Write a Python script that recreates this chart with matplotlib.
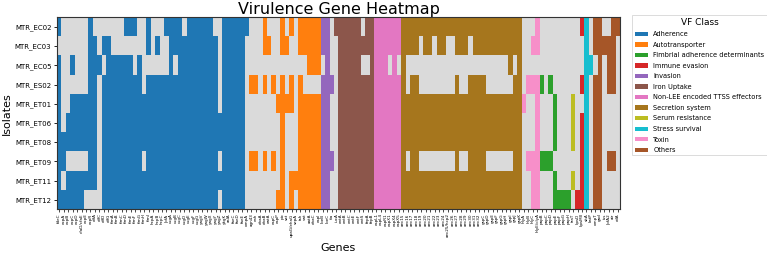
import matplotlib
matplotlib.use("Agg")
import matplotlib.pyplot as plt
import numpy as np
from matplotlib.colors import ListedColormap
from matplotlib.patches import Patch

isolates = ["MTR_EC02", "MTR_EC03", "MTR_EC05", "MTR_ES02", "MTR_ET01",
            "MTR_ET06", "MTR_ET08", "MTR_ET09", "MTR_ET11", "MTR_ET12"]

vf_classes = ["Adherence", "Autotransporter", "Fimbrial adherence determinants",
              "Immune evasion", "Invasion", "Iron Uptake",
              "Non-LEE encoded TTSS effectors", "Secretion system",
              "Serum resistance", "Stress survival", "Toxin", "Others"]
class_colors = ["#1f77b4", "#ff7f0e", "#2ca02c", "#d62728", "#9467bd", "#8c564b",
                "#e377c2", "#a6761d", "#bcbd22", "#17becf", "#f78fc9", "#a65628"]
absent_color = "#dadada"

# genes per class, in column order
adherence_genes = ["fdeC", "ecpA", "ecpB", "ecpC", "ecpD", "cfaD/cfaE", "ecpE", "ecpR",
                   "elfA", "elfC", "elfD", "elfG", "fimA", "fimB", "fimC", "fimD",
                   "fimE", "fimF", "fimG", "fimH", "fimI", "hcpA", "hcpB", "hcpC",
                   "lpfA", "csgA", "csgB", "csgC", "csgD", "csgE", "csgF", "csgG",
                   "yagV", "yagW", "yagX", "yagY", "yagZ", "ykgK", "aslA", "faeC",
                   "faeD", "faeE", "ompA"]
auto_genes = ["agn43", "cah", "ehaA", "ehaB", "eatA", "espC", "espP", "pic", "sat",
              "upaG/ehaG", "sepA", "tsh", "vat", "aatA", "ehaC", "espI"]
invasion_genes = ["ibeB", "ibeC", "tia"]
iron_genes = ["iucA", "entA", "entB", "entC", "entE", "entF", "entS", "fepA", "fepB"]
nonlee_genes = ["espL1", "espL4", "espR1", "espX1", "espX4", "espX5"]
secretion_genes = ["aec15", "aec16", "aec17", "aec18", "aec19", "aec20", "aec21", "aec22",
                   "aec23", "aec24", "aec25/hcp2", "aec26", "aec27", "aec28", "aec29",
                   "aec30", "aec31", "aec32", "gspC", "gspD", "gspE", "gspF", "gspG",
                   "gspH", "gspI", "gspJ", "gspK"]
toxin_genes = ["hlyA", "hlyB", "hlyC", "hlyE/clyA"]
fimbrial_genes = ["papB", "papC", "papD", "papE", "papF", "papG", "papH"]
serum_genes = ["traT"]
immune_genes = ["kpsD", "kpsMII"]
stress_genes = ["sitA", "katP"]
other_genes = ["ompT", "gad", "iss", "lpfA2", "air", "eilA"]

# presence per gene column, one char per isolate (EC02 ... ET12)
adherence_pres = ["1011111111", "0000001101", "0000011011", "0010111011", "0000111011",
                  "0000111011", "0000111010", "1111111110", "0111111110", "0010000000",
                  "0101111111", "0111111111", "0011111111", "0011111111", "0011111111",
                  "1011111111", "1011111111", "1001111111", "0011111111", "0000111011",
                  "1101111111", "0001111111", "0101111111", "0001111111", "1001111111",
                  "1111111111", "1101111111", "1111111111", "0111111111", "1111111111",
                  "1111111111", "1111111111", "1111111111", "1111111111", "1111111111",
                  "0111111111", "0000011010", "1111111111", "1111111111", "1111111111",
                  "1111111111", "1111111111", "1000000000"]
auto_pres = ["0001000100", "0001000100", "0000000000", "1101000100", "0100000000",
             "0001000100", "0000100001", "1101111111", "0100100000", "1001100011",
             "0000000010", "1101111111", "1100111111", "1110111111", "1110111111",
             "1110111111"]
invasion_pres = ["1101111111", "1111111111", "0001000100"]
iron_pres = ["1000000000", "1111111111", "1111111111", "1111111111", "1111111111",
             "1111111111", "0101111111", "1101111111", "1111111111"]
nonlee_pres = ["1111111111", "1111111111", "1111111111", "1101111111", "1111111111",
               "1101111111"]
secretion_pres = ["1111111111", "1100111011", "1101111111", "1101111111", "1000111011",
                  "1100111011", "1100111011", "1000111011", "1100111011", "1100111011",
                  "1000111011", "1000111011", "1101111111", "1100111011", "1100111011",
                  "1001111111", "1101111111", "1101111111", "1101111111", "1100111011",
                  "1100111011", "1100111011", "1100111011", "1100111011", "1110111011",
                  "1101111111", "1111111111"]
toxin_pres = ["0000100000", "0001000100", "0101000111", "1101111111"]
fimbrial_pres = ["0001000100", "0000000100", "0001000100", "0000111011", "0000000001",
                 "0000000001", "0000000001"]
serum_pres = ["0000111010"]
immune_pres = ["0000000001", "1001011111"]
stress_pres = ["1111111111", "0010000000"]
other_pres = ["1101111111", "1111111111", "0100000000", "0111000100", "1111000100",
              "1000000000"]

groups = [
    (adherence_genes, adherence_pres, "Adherence"),
    (auto_genes, auto_pres, "Autotransporter"),
    (invasion_genes, invasion_pres, "Invasion"),
    (iron_genes, iron_pres, "Iron Uptake"),
    (nonlee_genes, nonlee_pres, "Non-LEE encoded TTSS effectors"),
    (secretion_genes, secretion_pres, "Secretion system"),
    (toxin_genes, toxin_pres, "Toxin"),
    (fimbrial_genes, fimbrial_pres, "Fimbrial adherence determinants"),
    (serum_genes, serum_pres, "Serum resistance"),
    (immune_genes, immune_pres, "Immune evasion"),
    (stress_genes, stress_pres, "Stress survival"),
    (other_genes, other_pres, "Others"),
]

genes = []
cols = []
for names, pres, cls in groups:
    code = vf_classes.index(cls) + 1
    for g, p in zip(names, pres):
        genes.append(g)
        cols.append([code if ch == "1" else 0 for ch in p])
matrix = np.array(cols).T

cmap = ListedColormap([absent_color] + class_colors)

fig = plt.figure(figsize=(7.67, 2.56), dpi=100)
ax = fig.add_axes([0.0743, 0.1824, 0.734, 0.750])
ax.imshow(matrix, aspect="auto", cmap=cmap, vmin=-0.5, vmax=len(vf_classes) + 0.5,
          interpolation="nearest")

ax.set_xticks(np.arange(len(genes)))
ax.set_xticklabels(genes, rotation=90, fontsize=3)
ax.set_yticks(np.arange(len(isolates)))
ax.set_yticklabels(isolates, fontsize=5)
ax.tick_params(axis="x", length=2, width=0.5, pad=1)
ax.tick_params(axis="y", length=2.5, width=0.6, pad=1.5)
ax.set_xlabel("Genes", fontsize=8, labelpad=4)
ax.set_ylabel("Isolates", fontsize=8, labelpad=2)
ax.set_title("Virulence Gene Heatmap", fontsize=11.5, pad=2)
for s in ax.spines.values():
    s.set_linewidth(0.8)
    s.set_color("#333333")

handles = [Patch(facecolor=c, label=l) for c, l in zip(class_colors, vf_classes)]
leg = ax.legend(handles=handles, title="VF Class", loc="upper left",
                bbox_to_anchor=(629 / 767, 1 - 12 / 256), bbox_transform=fig.transFigure,
                fontsize=4.8, title_fontsize=6.5, handlelength=2.0, handleheight=0.6,
                handletextpad=0.8, labelspacing=0.68, borderpad=0.35, frameon=True,
                fancybox=False)
leg.get_frame().set_linewidth(0.6)

fig.savefig("out.png", dpi=100)
